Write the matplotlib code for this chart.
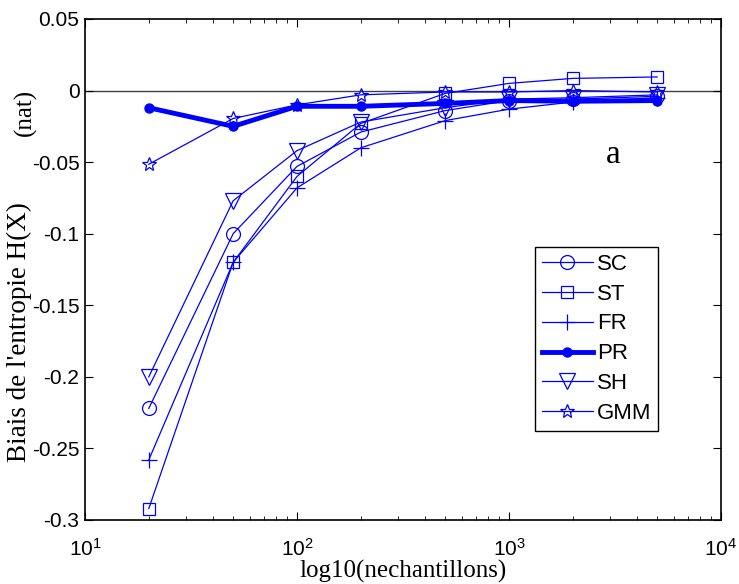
import numpy as np
import matplotlib
matplotlib.use("Agg")
import matplotlib.pyplot as plt

# sample sizes and entropy bias (nat) per estimator
n_samples = [20, 50, 100, 200, 500, 1000, 2000, 5000]
bias_sc = [-0.222, -0.100, -0.053, -0.029, -0.014, -0.007, -0.006, -0.004]
bias_st = [-0.292, -0.120, -0.060, -0.023, -0.002, 0.005, 0.0085, 0.0095]
bias_fr = [-0.258, -0.120, -0.068, -0.040, -0.021, -0.013, -0.008, -0.005]
bias_pr = [-0.012, -0.025, -0.011, -0.011, -0.009, -0.007, -0.0075, -0.007]
bias_sh = [-0.200, -0.077, -0.042, -0.022, -0.012, -0.006, -0.005, -0.003]
bias_gmm = [-0.0515, -0.0195, -0.010, -0.003, -0.001, -0.001, 0.000, -0.001]

y_ticks = [0.05, 0, -0.05, -0.1, -0.15, -0.2, -0.25, -0.3]
y_ticklabels = ["0.05", "0", "-0.05", "-0.1", "-0.15", "-0.2", "-0.25", "-0.3"]

plt.rcParams['font.family'] = ['Liberation Sans', 'DejaVu Sans']
plt.rcParams['mathtext.default'] = 'regular'
plt.rcParams['axes.unicode_minus'] = False

fig = plt.figure(figsize=(7.39, 5.84), dpi=100)
ax = fig.add_axes([0.115, 0.1096, 0.8606, 0.8579])

ax.axhline(0, color='#404040', lw=1.0, zorder=1)

blue = '#0000ff'
ax.plot(n_samples, bias_sc, color=blue, lw=0.9, marker='o', ms=10, mfc='none', mew=0.9, label='SC')
ax.plot(n_samples, bias_st, color=blue, lw=0.9, marker='s', ms=8, mfc='none', mew=0.9, label='ST')
ax.plot(n_samples, bias_fr, color=blue, lw=0.9, marker='+', ms=11, mew=0.9, label='FR')
ax.plot(n_samples, bias_pr, color=blue, lw=3.5, marker='o', ms=6.5, label='PR')
ax.plot(n_samples, bias_sh, color=blue, lw=0.9, marker='v', ms=11, mfc='none', mew=0.9, label='SH')
ax.plot(n_samples, bias_gmm, color=blue, lw=0.9, marker='*', ms=10, mfc='none', mew=0.9, label='GMM')

ax.set_xscale('log')
ax.set_xlim(10, 1e4)
ax.set_ylim(-0.3, 0.05)
ax.set_yticks(y_ticks)
ax.set_yticklabels(y_ticklabels)

ax.tick_params(which='both', direction='in', top=True, right=True, labelsize=15)
ax.tick_params(which='major', length=6)
ax.tick_params(axis='y', which='major', pad=4)
ax.tick_params(axis='x', which='major', pad=13)
ax.tick_params(which='minor', length=3)
for s in ax.spines.values():
    s.set_linewidth(1.2)

ax.text(0.830, 0.729, 'a', fontsize=24, family='Liberation Serif', ha='center', va='center',
        transform=ax.transAxes)
ax.set_xlabel('log10(nechantillons)', family='Liberation Serif', fontsize=18, labelpad=0)

fig.text(0.026, 0.432, "Biais de l'entropie H(X)", rotation=90, family='Liberation Serif',
         fontsize=19.5, ha='center', va='center')
fig.text(0.034, 0.808, "(nat)", rotation=90, family='Liberation Serif',
         fontsize=18, ha='center', va='center')

leg = ax.legend(loc='lower left', bbox_to_anchor=(0.7075, 0.178), fontsize=16,
                fancybox=False, framealpha=1, edgecolor='black', borderpad=0.3,
                labelspacing=0.4, handlelength=2.3, handletextpad=0.2, borderaxespad=0)
leg.get_frame().set_linewidth(1.0)

fig.savefig('out.png', dpi=100)
